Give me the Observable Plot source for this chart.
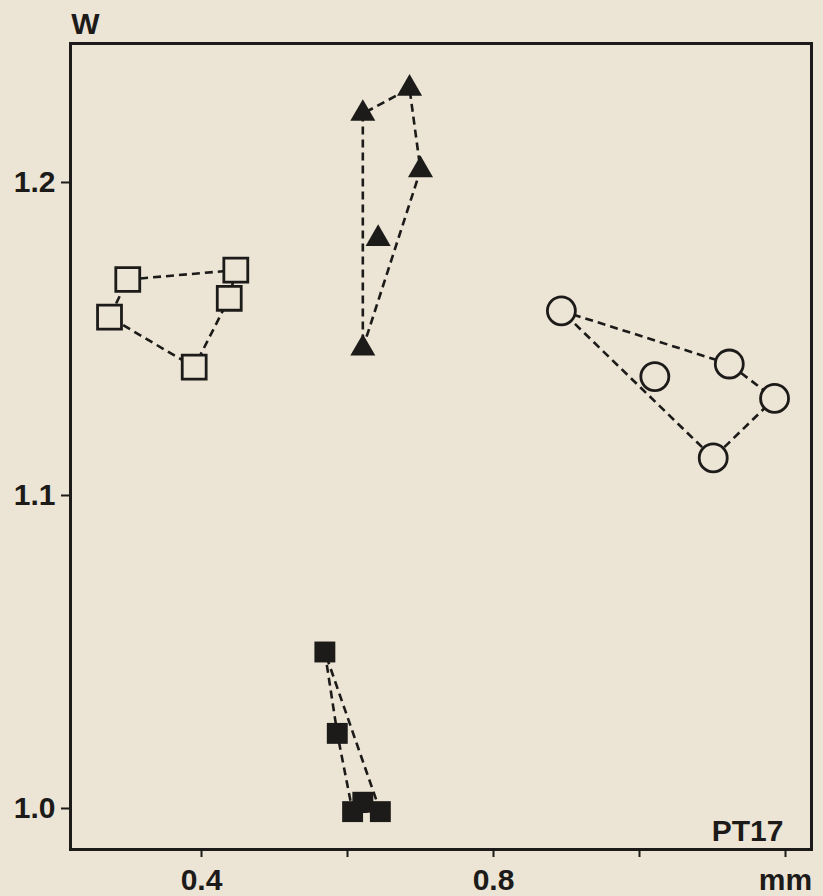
<!DOCTYPE html>
<html><head><meta charset="utf-8">
<script src="https://cdn.jsdelivr.net/npm/d3@7"></script>
<script src="https://cdn.jsdelivr.net/npm/@observablehq/plot@0.6"></script>
<style>html,body{margin:0;padding:0;background:#ece5d5;}</style>
</head><body><div id="chart"></div>
<script>
// Data (x in mm, y = W)
const openSquareX   = [0.299, 0.274, 0.447, 0.438, 0.390];
const openSquareY   = [1.169, 1.157, 1.172, 1.163, 1.141];
const triangleX     = [0.621, 0.685, 0.700, 0.642, 0.621];
const triangleY     = [1.222, 1.230, 1.204, 1.182, 1.147];
const circleX       = [0.893, 1.021, 1.123, 1.185, 1.101];
const circleY       = [1.159, 1.138, 1.142, 1.131, 1.112];
const filledSquareX = [0.569, 0.586, 0.607, 0.621, 0.645];
const filledSquareY = [1.050, 1.024, 0.999, 1.002, 0.999];

const yTicks = [1.0, 1.1, 1.2];
const xTicks = [0.4, 0.6, 0.8, 1.0, 1.2];
const xTickLabels = ["0.4", "", "0.8", "", "mm"];
const yLabel = "W";
const panelLabel = "PT17";

const BG = "#ece5d5";
const INK = "#1c1b19";

function rows(xs, ys, group) { return xs.map((x, i) => ({x, y: ys[i], group})); }
const openSq = rows(openSquareX, openSquareY, "openSquare");
const tri = rows(triangleX, triangleY, "triangle");
const circ = rows(circleX, circleY, "circle");
const fillSq = rows(filledSquareX, filledSquareY, "filledSquare");
const all = [...openSq, ...tri, ...circ, ...fillSq];

const chart = Plot.plot({
  width: 823,
  height: 896,
  marginLeft: 70,
  marginRight: 12,
  marginTop: 43,
  marginBottom: 47,
  x: {domain: [0.22055, 1.23562]},
  y: {domain: [0.9869, 1.2444]},
  style: {background: BG, color: INK, fontFamily: "'Liberation Sans', Arial, Helvetica, sans-serif", fontSize: "30px", fontWeight: "bold"},
  marks: [
    Plot.hull(all, {x: "x", y: "y", z: "group", fill: "none", stroke: INK, strokeWidth: 2.6, strokeDasharray: "8,5"}),
    Plot.dot(openSq, {x: "x", y: "y", symbol: "square", r: 13.5, fill: BG, stroke: INK, strokeWidth: 2.8}),
    Plot.dot(circ, {x: "x", y: "y", symbol: "circle", r: 14, fill: BG, stroke: INK, strokeWidth: 2.8}),
    Plot.dot(tri, {x: "x", y: "y", symbol: "triangle", r: 9.3, fill: INK, stroke: "none"}),
    Plot.dot(fillSq, {x: "x", y: "y", symbol: "square", r: 11.8, fill: INK, stroke: "none"}),
    Plot.frame({stroke: INK, strokeWidth: 3}),
    Plot.axisY({ticks: yTicks, tickFormat: d => d.toFixed(1), tickSize: 9, tickPadding: 6, strokeWidth: 2, label: null, fontSize: 30}),
    Plot.axisX({ticks: xTicks, tickFormat: d => xTickLabels[xTicks.findIndex(t => Math.abs(t - d) < 1e-9)], tickSize: 8, tickPadding: 11, strokeWidth: 2, label: null, fontSize: 30}),
    Plot.text([yLabel], {frameAnchor: "top-left", text: d => d, dx: 15, dy: -10, textAnchor: "middle", lineAnchor: "bottom", fontSize: 30, fontWeight: "bold", fill: INK}),
    Plot.text([panelLabel], {frameAnchor: "bottom-right", text: d => d, dx: -28, dy: -9, textAnchor: "end", lineAnchor: "bottom", fontSize: 30, fontWeight: "bold", fill: INK})
  ]
});
document.getElementById("chart").appendChild(chart);
</script>
</body></html>
